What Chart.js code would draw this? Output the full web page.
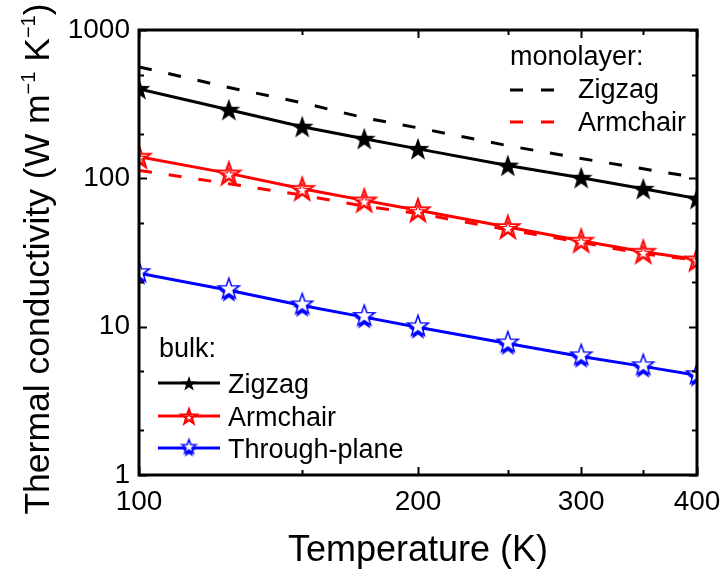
<!DOCTYPE html>
<html>
<head>
<meta charset="utf-8">
<script src="https://cdn.jsdelivr.net/npm/chart.js@4/dist/chart.umd.min.js"></script>
<style>
  html, body { margin: 0; padding: 0; background: #fff; }
  #chart { display: block; }
</style>
</head>
<body>
<canvas id="chart" width="723" height="576"></canvas>
<script>
// temperatures (K)
const temps = [100, 125, 150, 175, 200, 250, 300, 350, 400];

// bulk values, W m^-1 K^-1
const bulkZigzag = [401, 290, 223, 185, 158, 122, 101, 85, 73];
const bulkArmchair = [140, 108, 85, 71, 61, 47, 38, 32, 28.4];
const bulkThrough = [22.9, 17.6, 13.9, 11.6, 9.9, 7.7, 6.3, 5.4, 4.7];

// monolayer values
const monoZigzag = [564, 410, 323, 256, 219, 166, 136, 116, 101];
const monoArmchair = [113, 92, 77, 65, 58, 45, 37, 31, 28];

// tick values
const xMajor = [100, 200, 300, 400];
const xMinor = [150, 250, 350];
const yMajor = [1, 10, 100, 1000];
const yMinor = [2, 5, 20, 50, 200, 500];

const FONT = '"Liberation Sans", Arial, sans-serif';

function starPath(ctx, cx, cy, R) {
  const r = R * 0.4;
  ctx.beginPath();
  for (let i = 0; i < 10; i++) {
    const a = -Math.PI / 2 + i * Math.PI / 5;
    const rad = i % 2 ? r : R;
    const px = cx + rad * Math.cos(a), py = cy + rad * Math.sin(a);
    i ? ctx.lineTo(px, py) : ctx.moveTo(px, py);
  }
  ctx.closePath();
}

function makeStar(kind, R) {
  const c = document.createElement("canvas");
  const s = Math.ceil(R * 2 + 10);
  c.width = s; c.height = s;
  const ctx = c.getContext("2d");
  const m = s / 2;
  if (kind === "black") {
    starPath(ctx, m, m + 1, R);
    ctx.fillStyle = "#000";
    ctx.fill();
  } else if (kind === "red") {
    starPath(ctx, m, m + 1, R);
    ctx.fillStyle = "#fff";
    ctx.fill();
    ctx.strokeStyle = "#ff0000";
    ctx.lineWidth = 2;
    ctx.stroke();
    ctx.lineWidth = 1.3;
    starPath(ctx, m, m + 1.8, R * 0.6);
    ctx.stroke();
  } else {
    starPath(ctx, m, m + 3, R * 0.95);
    ctx.fillStyle = "#0000ff";
    ctx.fill();
    starPath(ctx, m, m - 1, R);
    ctx.fillStyle = "#fff";
    ctx.fill();
    ctx.strokeStyle = "#0000ff";
    ctx.lineWidth = 1.5;
    ctx.stroke();
  }
  return c;
}

const starBlack = makeStar("black", 12),
  starRed = makeStar("red", 12),
  starBlue = makeStar("blue", 11);
const legBlack = makeStar("black", 8),
  legRed = makeStar("red", 8),
  legBlue = makeStar("blue", 7.5);

function pts(vals) {
  return temps.map((t, i) => ({ x: t, y: vals[i] }));
}

const boxPlugin = {
  id: "box",
  afterDraw(chart) {
    const ctx = chart.ctx,
      a = chart.chartArea,
      sx = chart.scales.x,
      sy = chart.scales.y;
    ctx.save();
    ctx.strokeStyle = "#000";
    ctx.lineWidth = 2;
    ctx.beginPath();
    xMajor.concat(xMinor).forEach((v) => {
      const len = xMajor.includes(v) ? 8 : 5,
        px = Math.round(sx.getPixelForValue(v)) + 0.5;
      ctx.moveTo(px, a.bottom); ctx.lineTo(px, a.bottom - len);
      ctx.moveTo(px, a.top); ctx.lineTo(px, a.top + len);
    });
    yMajor.concat(yMinor).forEach((v) => {
      const len = yMajor.includes(v) ? 8 : 5,
        py = Math.round(sy.getPixelForValue(v)) + 0.5;
      ctx.moveTo(a.left, py); ctx.lineTo(a.left + len, py);
      ctx.moveTo(a.right, py); ctx.lineTo(a.right - len, py);
    });
    ctx.stroke();
    ctx.lineWidth = 3;
    ctx.strokeRect(a.left, a.top, a.right - a.left, a.bottom - a.top);

    // monolayer legend
    ctx.fillStyle = "#000";
    ctx.font = "27px " + FONT;
    ctx.textBaseline = "alphabetic";
    ctx.fillText("monolayer:", 510, 65);
    ctx.fillText("Zigzag", 578, 98);
    ctx.fillText("Armchair", 578, 131);
    ctx.lineWidth = 3;
    [["#000", 90], ["#ff0000", 122]].forEach(([col, y]) => {
      ctx.strokeStyle = col;
      ctx.beginPath();
      ctx.moveTo(510, y); ctx.lineTo(523, y);
      ctx.moveTo(541, y); ctx.lineTo(554, y);
      ctx.stroke();
    });

    // bulk legend
    ctx.fillStyle = "#000";
    ctx.fillText("bulk:", 159, 357);
    [["#000", 383, legBlack, "Zigzag"], ["#ff0000", 416, legRed, "Armchair"], ["#0000ff", 448, legBlue, "Through-plane"]].forEach(([col, y, img, txt]) => {
      ctx.strokeStyle = col;
      ctx.beginPath();
      ctx.moveTo(158, y); ctx.lineTo(220, y);
      ctx.stroke();
      ctx.drawImage(img, 189 - img.width / 2, y - img.height / 2);
      ctx.fillStyle = "#000";
      ctx.fillText(txt, 228, y + 10);
    });

    // axis titles
    ctx.font = "36px " + FONT;
    ctx.textAlign = "center";
    ctx.fillText("Temperature (K)", (a.left + a.right) / 2, 561);

    const parts = [
      ["Thermal conductivity (W m", 35.5, 0],
      ["\u22121", 20, -14],
      [" K", 35.5, 0],
      ["\u22121", 20, -14],
      [")", 35.5, 0],
    ];
    ctx.textAlign = "left";
    let total = 0;
    parts.forEach((p) => {
      ctx.font = p[1] + "px " + FONT;
      p.w = ctx.measureText(p[0]).width;
      total += p.w;
    });
    ctx.translate(49, 259);
    ctx.rotate(-Math.PI / 2);
    let x = -total / 2;
    parts.forEach((p) => {
      ctx.font = p[1] + "px " + FONT;
      ctx.fillText(p[0], x, p[2]);
      x += p.w;
    });
    ctx.restore();
  },
};

const config = {
  type: "line",
  data: {
    datasets: [
      {
        label: "bulk Zigzag",
        data: pts(bulkZigzag),
        borderColor: "#000",
        borderWidth: 3,
        pointStyle: starBlack,
      },
      {
        label: "bulk Armchair",
        data: pts(bulkArmchair),
        borderColor: "#ff0000",
        borderWidth: 3,
        pointStyle: starRed,
      },
      {
        label: "bulk Through-plane",
        data: pts(bulkThrough),
        borderColor: "#0000ff",
        borderWidth: 3,
        pointStyle: starBlue,
      },
      {
        label: "monolayer Zigzag",
        data: pts(monoZigzag),
        borderColor: "#000",
        borderWidth: 3,
        borderDash: [13, 17],
        pointRadius: 0,
      },
      {
        label: "monolayer Armchair",
        data: pts(monoArmchair),
        borderColor: "#ff0000",
        borderWidth: 3,
        borderDash: [13, 17],
        pointRadius: 0,
      },
    ],
  },
  options: {
    responsive: false,
    animation: false,
    devicePixelRatio: 1,
    layout: { padding: { top: 30, right: 26, left: 0, bottom: 0 } },
    elements: { line: { tension: 0, fill: false } },
    plugins: { legend: { display: false }, tooltip: { enabled: false } },
    scales: {
      x: {
        type: "logarithmic",
        min: 100,
        max: 400,
        grid: { display: false, drawTicks: false },
        border: { display: false },
        afterBuildTicks: (s) => { s.ticks = xMajor.map((v) => ({ value: v })); },
        afterFit: (s) => { s.height = 101; s.paddingLeft = 0; s.paddingRight = 0; },
        ticks: {
          autoSkip: false,
          maxRotation: 0,
          padding: 10,
          color: "#000",
          font: { family: FONT, size: 28 },
          callback: (v) => String(v),
        },
      },
      y: {
        type: "logarithmic",
        min: 1,
        max: 1000,
        grid: { display: false, drawTicks: false },
        border: { display: false },
        afterBuildTicks: (s) => { s.ticks = yMajor.map((v) => ({ value: v })); },
        afterFit: (s) => { s.width = 139; s.paddingTop = 0; s.paddingBottom = 0; },
        ticks: {
          autoSkip: false,
          padding: 9,
          color: "#000",
          font: { family: FONT, size: 28 },
          callback: (v) => String(v),
        },
      },
    },
  },
  plugins: [boxPlugin],
};

new Chart(document.getElementById("chart").getContext("2d"), config);
</script>
</body>
</html>
